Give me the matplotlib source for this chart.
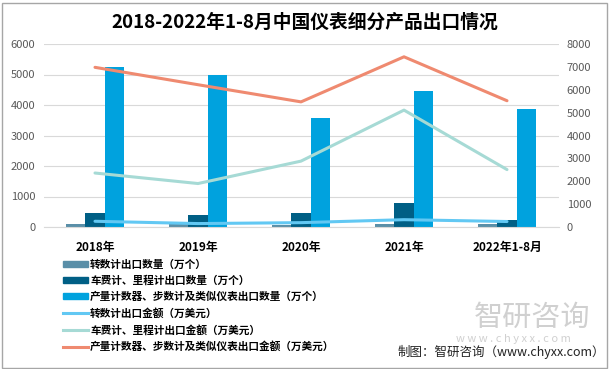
import matplotlib
matplotlib.use('Agg')
import matplotlib.pyplot as plt
from matplotlib.patches import Patch, Rectangle
from matplotlib.lines import Line2D
import numpy as np

plt.rcParams['font.family'] = ['Noto Sans CJK SC', 'DejaVu Sans']

years = ['2018年', '2019年', '2020年', '2021年', '2022年1-8月']

# bars (left axis, 万个)
qty_zhuan = [100, 100, 80, 110, 110]
qty_chefei = [460, 400, 460, 780, 220]
qty_chanliang = [5240, 4980, 3570, 4450, 3860]

# lines (right axis, 万美元)
amt_zhuan = [250, 150, 190, 320, 240]
amt_chefei = [2360, 1900, 2880, 5110, 2510]
amt_chanliang = [6980, 6220, 5470, 7440, 5520]

bar_names = ['转数计出口数量（万个）', '车费计、里程计出口数量（万个）',
             '产量计数器、步数计及类似仪表出口数量（万个）']
line_names = ['转数计出口金额（万美元）', '车费计、里程计出口金额（万美元）',
              '产量计数器、步数计及类似仪表出口金额（万美元）']
bar_colors = ['#5A8FA8', '#005F85', '#00A2DE']
line_colors = ['#62C8F3', '#A6DAD5', '#EF8A70']

W, H = 609, 369
fig = plt.figure(figsize=(W / 100, H / 100), dpi=100)
ax = fig.add_axes([43.5 / W, (H - 227) / H, 515 / W, 183 / H])
ax2 = ax.twinx()

x = np.arange(len(years))
bw = 0.19
for i, vals in enumerate([qty_zhuan, qty_chefei, qty_chanliang]):
    ax.bar(x + (i - 1) * bw, vals, bw, color=bar_colors[i], zorder=2)

for i, vals in enumerate([amt_zhuan, amt_chefei, amt_chanliang]):
    ax2.plot(x, vals, color=line_colors[i], lw=2.2, solid_capstyle='round')

ax.set_xlim(-0.5, len(years) - 0.5)
ax.set_ylim(0, 6000)
ax2.set_ylim(0, 8000)
ax.set_yticks(range(0, 6001, 1000))
ax2.set_yticks(range(0, 8001, 1000))
ax.yaxis.grid(True, color='#D9D9D9', lw=0.8, zorder=0)
ax.set_axisbelow(True)

for a in (ax, ax2):
    for s in ['top', 'left', 'right']:
        a.spines[s].set_visible(False)
    a.spines['bottom'].set_color('#D9D9D9')
    a.tick_params(axis='y', length=0, labelsize=8, labelcolor='#595959', pad=6)
ax2.spines['bottom'].set_visible(False)

ax.set_xticks(x)
ax.set_xticklabels(years, fontsize=8.5, fontweight='bold')
ax.tick_params(axis='x', length=0, pad=10)

fig.text(0.5, 1 - 22 / H, '2018-2022年1-8月中国仪表细分产品出口情况', ha='center', va='center',
         fontsize=13.5, fontweight='bold')

handles = [Patch(color=c) for c in bar_colors] + \
          [Line2D([], [], color=c, lw=2.2) for c in line_colors]
fig.legend(handles, bar_names + line_names, loc='upper left',
           bbox_to_anchor=(58 / W, 1 - 254 / H), frameon=False, borderpad=0,
           handlelength=2.3, handleheight=0.5, handletextpad=0.2,
           labelspacing=0.55, prop={'weight': 'bold', 'size': 7.7})

# watermark + source
fig.text(532 / W, 1 - 318 / H, '智研咨询', ha='center', va='center', fontsize=21,
         color='#D0D0D0')
fig.text(513 / W, 1 - 339 / H, 'w w w . c h y x x . c o m', ha='center', va='center',
         fontsize=8, color='#D0D0D0')
fig.text(605 / W, 1 - 352 / H, '制图：智研咨询（www.chyxx.com）', ha='right', va='center',
         fontsize=9, color='#222222')

fig.add_artist(Rectangle((1.5 / W, 1.5 / H), (W - 4) / W, (H - 4) / H, transform=fig.transFigure,
                         fill=False, edgecolor='#A6A6A6', lw=1))

fig.savefig('out.png', dpi=100)
